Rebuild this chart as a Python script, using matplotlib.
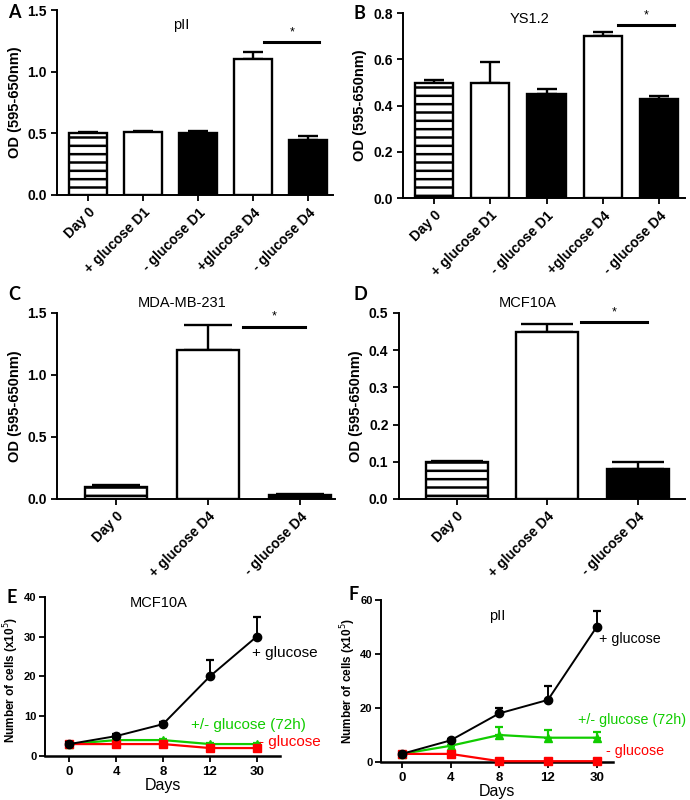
import matplotlib
matplotlib.use("Agg")
import matplotlib.pyplot as plt
import numpy as np

plt.rcParams['font.family'] = ['Liberation Sans', 'DejaVu Sans']
plt.rcParams['hatch.linewidth'] = 1.8

# ---- data ----
cats_5 = ["Day 0", "+ glucose D1", "- glucose D1", "+glucose D4", "- glucose D4"]
cats_3 = ["Day 0", "+ glucose D4", "- glucose D4"]

pII_od = [0.50, 0.51, 0.50, 1.10, 0.45]
pII_err = [0.01, 0.01, 0.02, 0.06, 0.03]

ys12_od = [0.50, 0.50, 0.45, 0.70, 0.43]
ys12_err = [0.01, 0.09, 0.02, 0.02, 0.01]

mda_od = [0.10, 1.20, 0.03]
mda_err = [0.01, 0.20, 0.01]

mcf_od = [0.10, 0.45, 0.08]
mcf_err = [0.002, 0.02, 0.02]

days = ["0", "4", "8", "12", "30"]

mcf_plus = [3, 5, 8, 20, 30]
mcf_plus_err = [0.5, 0.5, 0.5, 4, 5]
mcf_mix = [3, 4, 4, 3, 3]
mcf_mix_err = [0.3, 0.3, 0.3, 0.3, 0.3]
mcf_minus = [3, 3, 3, 2, 2]
mcf_minus_err = [0.3, 0.3, 0.3, 0.3, 0.3]

pii_plus = [3, 8, 18, 23, 50]
pii_plus_err = [0.5, 0.5, 2, 5, 6]
pii_mix = [3, 6, 10, 9, 9]
pii_mix_err = [0.3, 0.3, 3, 3, 2]
pii_minus = [3, 3, 0.3, 0.3, 0.3]
pii_minus_err = [0.3, 0.3, 0.3, 0.3, 0.3]

fig = plt.figure(figsize=(6.9, 8), dpi=100)

def style_axes(ax, labelsize=10):
    for s in ['top', 'right']:
        ax.spines[s].set_visible(False)
    for s in ['left', 'bottom']:
        ax.spines[s].set_linewidth(1.4)
    ax.tick_params(direction='out', width=1.3, length=4, labelsize=labelsize)
    for lab in ax.get_yticklabels():
        lab.set_fontweight('bold')

def bar_panel(rect, cats, vals, errs, fills, title, title_y, ylim, yticks,
              xlim, capsize, sig, letter, letter_xy):
    ax = fig.add_axes(rect)
    x = np.arange(len(cats))
    for i in range(len(cats)):
        if fills[i] == 'hatch':
            ax.bar(x[i], vals[i], 0.68, color='white', edgecolor='black',
                   linewidth=1.7, hatch='--', zorder=2)
        else:
            ax.bar(x[i], vals[i], 0.68, color=fills[i], edgecolor='black',
                   linewidth=1.7, zorder=2)
    ax.errorbar(x, vals, yerr=[np.zeros(len(vals)), errs], fmt='none',
                ecolor='black', elinewidth=1.7, capsize=capsize,
                capthick=1.7, zorder=1)
    ax.set_xlim(*xlim)
    ax.set_ylim(*ylim)
    ax.set_yticks(yticks)
    ax.set_xticks(x)
    ax.set_xticklabels(cats, rotation=45, ha='right', rotation_mode='anchor',
                       fontweight='bold', fontsize=10)
    ax.set_ylabel("OD (595-650nm)", fontweight='bold', fontsize=10.5)
    style_axes(ax)
    ax.text(np.mean(xlim) - 0.05 * (xlim[1] - xlim[0]), title_y, title,
            ha='center', va='center', fontsize=10.5)
    (x0, x1, ys) = sig
    ax.plot([x0, x1], [ys, ys], color='black', lw=2.2, clip_on=False)
    ax.text((x0 + x1) / 2, ys + 0.02 * ylim[1], "*", ha='center',
            va='bottom', fontsize=9)
    fig.text(letter_xy[0], letter_xy[1], letter, fontsize=13,
             fontweight='bold', family=['Lato', 'DejaVu Sans'],
             ha='left', va='center')
    return ax

fill5 = ['hatch', 'white', 'black', 'white', 'black']
fill3 = ['hatch', 'white', 'black']

bar_panel([0.0826, 0.75625, 0.40, 0.23125], cats_5, pII_od, pII_err, fill5,
          "pII", 1.38, (0, 1.5), [0.0, 0.5, 1.0, 1.5], (-0.56, 4.45), 7,
          (3.2, 4.2, 1.24), "A", (0.012, 0.985))
bar_panel([0.584, 0.7525, 0.409, 0.231], cats_5, ys12_od, ys12_err, fill5,
          "YS1.2", 0.775, (0, 0.8), [0.0, 0.2, 0.4, 0.6, 0.8], (-0.55, 4.46), 7,
          (3.27, 4.27, 0.75), "B", (0.513, 0.983))
bar_panel([0.0826, 0.37625, 0.403, 0.2325], cats_3, mda_od, mda_err, fill3,
          "MDA-MB-231", 1.58, (0, 1.5), [0.0, 0.5, 1.0, 1.5], (-0.64, 2.38), 17,
          (1.38, 2.05, 1.39), "C", (0.012, 0.632))
bar_panel([0.578, 0.37625, 0.4145, 0.2325], cats_3, mcf_od, mcf_err, fill3,
          "MCF10A", 0.527, (0, 0.5), [0.0, 0.1, 0.2, 0.3, 0.4, 0.5], (-0.64, 2.52), 19,
          (1.37, 2.1, 0.475), "D", (0.513, 0.632))

def line_panel(rect, plus, plus_err, mix, mix_err, minus, minus_err, ylim,
               yticks, xlim, title, title_xy, labels_xy, lab_size, ylab_xy,
               letter, letter_xy):
    ax = fig.add_axes(rect)
    x = np.arange(len(days))
    z = np.zeros(len(days))
    ax.errorbar(x, minus, yerr=[z, minus_err], color='#ff0000', marker='s',
                markersize=6, lw=1.6, capsize=3, capthick=1.6, zorder=3,
                clip_on=False)
    ax.errorbar(x, mix, yerr=[z, mix_err], color='#11cc00', marker='^',
                markersize=6, lw=1.6, capsize=3, capthick=1.6, zorder=2,
                clip_on=False)
    ax.errorbar(x, plus, yerr=[z, plus_err], color='black', marker='o',
                markersize=6, lw=1.4, capsize=3, capthick=1.6, zorder=4,
                clip_on=False)
    ax.set_xlim(*xlim)
    ax.set_ylim(*ylim)
    ax.set_yticks(yticks)
    ax.set_xticks(x)
    ax.set_xticklabels(days, fontweight='bold', fontsize=9.5)
    style_axes(ax, labelsize=8)
    ax.tick_params(axis='x', labelsize=9.5)
    ax.tick_params(axis='y', pad=2)
    ax.spines['bottom'].set_linewidth(1.8)
    ax.set_ylabel("Number of cells (x10$^5$)", fontweight='bold', fontsize=8.5)
    ax.yaxis.set_label_coords(ylab_xy[0], ylab_xy[1])
    ax.set_xlabel("Days", fontsize=11.5, labelpad=0)
    ax.text(title_xy[0], title_xy[1], title, ha='center', va='center',
            fontsize=10.5)
    ax.text(labels_xy[0][0], labels_xy[0][1], "+ glucose", fontsize=lab_size,
            color='black', va='center')
    ax.text(labels_xy[1][0], labels_xy[1][1], "+/- glucose (72h)", fontsize=lab_size,
            color='#11cc00', va='center')
    ax.text(labels_xy[2][0], labels_xy[2][1], "- glucose", fontsize=lab_size,
            color='#ff0000', va='center')
    fig.text(letter_xy[0], letter_xy[1], letter, fontsize=13,
             fontweight='bold', family=['Lato', 'DejaVu Sans'],
             ha='left', va='center')
    return ax

line_panel([0.065, 0.055, 0.341, 0.199], mcf_plus, mcf_plus_err, mcf_mix,
           mcf_mix_err, mcf_minus, mcf_minus_err, (0, 40), [0, 10, 20, 30, 40],
           (-0.52, 4.5), "MCF10A", (1.9, 38.5),
           [(3.9, 26), (2.6, 7.8), (4.05, 3.5)], 11, (-0.10, 0.48),
           "E", (0.010, 0.253))
line_panel([0.552, 0.0475, 0.336, 0.2025], pii_plus, pii_plus_err, pii_mix,
           pii_mix_err, pii_minus, pii_minus_err, (0, 60), [0, 20, 40, 60],
           (-0.43, 4.33), "pII", (1.95, 54),
           [(4.05, 45.6), (3.62, 15.5), (4.2, 4.0)], 10.3, (-0.10, 0.5),
           "F", (0.505, 0.257))

fig.savefig("out.png", dpi=100)
